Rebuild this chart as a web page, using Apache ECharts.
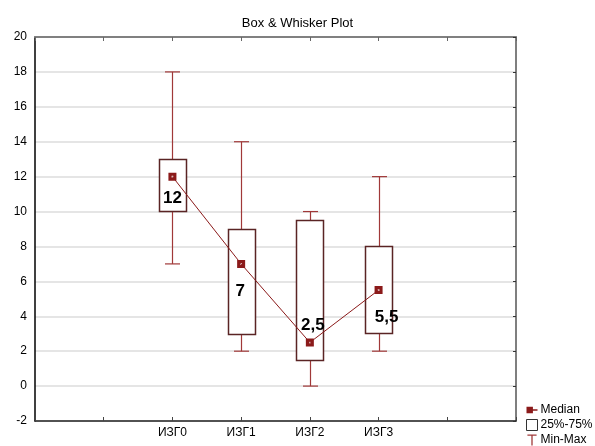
<!DOCTYPE html>
<html>
<head>
<meta charset="utf-8">
<script src="https://cdn.jsdelivr.net/npm/echarts@6/dist/echarts.min.js"></script>
<style>
  html, body { margin: 0; padding: 0; background: #fff; }
  #chart { width: 595px; height: 446px; }
</style>
</head>
<body>
<div id="chart"></div>
<script>
var categories = ['ИЗГ0', 'ИЗГ1', 'ИЗГ2', 'ИЗГ3'];
var mins    = [7, 2, 0, 2];
var q1s     = [10, 3, 1.5, 3];
var medians = [12, 7, 2.5, 5.5];
var q3s     = [13, 9, 9.5, 8];
var maxs    = [18, 14, 10, 12];
var medianLabels = ['12', '7', '2,5', '5,5'];
var yTicks = { min: -2, max: 20, step: 2 };

// categories sit on ticks 2..5 of a 0..7 axis
var FIRST = 2;
var labelOffsets = [[0, 22], [-1, 27], [3, -17], [8, 27]];

var boxData = categories.map(function (c, i) {
    return [i + FIRST, mins[i], q1s[i], medians[i], q3s[i], maxs[i]];
});
var medianData = categories.map(function (c, i) {
    return {
        value: [i + FIRST, medians[i]],
        label: { formatter: medianLabels[i], offset: labelOffsets[i] }
    };
});

var boxColor = '#5a2424';
var whiskerColor = '#a03838';
var medianColor = '#8b1a1a';
var font = '"Liberation Sans", Arial, sans-serif';

function renderBox(params, api) {
    var x = api.value(0);
    var a = api.coord([x, api.value(2)]);
    var b = api.coord([x, api.value(4)]);
    var w = 27;
    return {
        type: 'rect',
        shape: { x: Math.round(a[0] - w / 2) + 0.5, y: Math.round(b[1]) + 0.5, width: w, height: Math.round(a[1] - b[1]) },
        style: { fill: '#fff', stroke: boxColor, lineWidth: 1.5 }
    };
}

function renderWhisker(params, api) {
    var x = api.value(0);
    var pMin = api.coord([x, api.value(1)]);
    var pQ1 = api.coord([x, api.value(2)]);
    var pQ3 = api.coord([x, api.value(4)]);
    var pMax = api.coord([x, api.value(5)]);
    var cx = Math.round(pMin[0]) + 0.5;
    var c = 7.5;
    var st = { stroke: whiskerColor, lineWidth: 1.2 };
    return {
        type: 'group',
        children: [
            { type: 'line', shape: { x1: cx, y1: pMax[1], x2: cx, y2: pQ3[1] }, style: st },
            { type: 'line', shape: { x1: cx, y1: pQ1[1], x2: cx, y2: pMin[1] }, style: st },
            { type: 'line', shape: { x1: cx - c, y1: pMax[1], x2: cx + c, y2: pMax[1] }, style: st },
            { type: 'line', shape: { x1: cx - c, y1: pMin[1], x2: cx + c, y2: pMin[1] }, style: st }
        ]
    };
}

var myChart = echarts.init(document.getElementById('chart'));
var option = {
    backgroundColor: '#fff',
    animation: false,
    textStyle: { fontFamily: font },
    title: {
        text: 'Box & Whisker Plot',
        left: 'center',
        top: 12,
        textStyle: { fontSize: 13, fontWeight: 'normal', color: '#000', fontFamily: font }
    },
    legend: {
        orient: 'vertical',
        left: 526,
        top: 404,
        padding: 0,
        itemWidth: 11,
        itemHeight: 11,
        itemGap: 3,
        textStyle: { fontSize: 12, color: '#000', fontFamily: font, padding: [0, 0, 0, -2] },
        data: [
            { name: 'Median', icon: 'path://M0,3H7V10H0Z M7,5.8H12V7.2H7Z', itemStyle: { color: medianColor, borderWidth: 0 } },
            { name: '25%-75%', icon: 'rect', itemStyle: { color: '#fff', borderColor: '#333', borderWidth: 1 } },
            { name: 'Min-Max', icon: 'path://M0,0H10V1.4H5.7V12H4.3V1.4H0Z', itemStyle: { color: whiskerColor, borderWidth: 0 } }
        ]
    },
    grid: { left: 35, right: 79, top: 37, bottom: 25 },
    xAxis: [{
        type: 'value',
        min: 0, max: 7, interval: 1,
        position: 'bottom',
        axisLine: { onZero: false, lineStyle: { color: '#222', width: 1.5 } },
        axisTick: { inside: true, length: 4, lineStyle: { color: '#444' } },
        splitLine: { show: false },
        axisLabel: {
            fontSize: 12, color: '#000', margin: 6, fontFamily: font,
            formatter: function (v) { return categories[v - FIRST] || ''; }
        }
    }, {
        type: 'value',
        min: 0, max: 7, interval: 1,
        position: 'top',
        axisLine: { onZero: false, lineStyle: { color: '#808080', width: 2 } },
        axisTick: { inside: true, length: 4, lineStyle: { color: '#666' } },
        splitLine: { show: false },
        axisLabel: { show: false }
    }],
    yAxis: [{
        type: 'value',
        min: yTicks.min, max: yTicks.max, interval: yTicks.step,
        position: 'left',
        axisLine: { show: true, onZero: false, lineStyle: { color: '#000', width: 1.5 } },
        axisTick: { show: false },
        splitLine: { lineStyle: { color: '#dcdcdc', width: 1.5 } },
        axisLabel: { fontSize: 12, color: '#000', margin: 8, fontFamily: font }
    }, {
        type: 'value',
        min: yTicks.min, max: yTicks.max, interval: yTicks.step,
        position: 'right',
        axisLine: { show: true, onZero: false, lineStyle: { color: '#555', width: 1.5 } },
        axisTick: { inside: true, length: 3, lineStyle: { color: '#333' } },
        splitLine: { show: false },
        axisLabel: { show: false }
    }],
    series: [{
        name: 'Min-Max',
        type: 'custom',
        renderItem: renderWhisker,
        encode: { x: 0, y: [1, 2, 3, 4, 5] },
        itemStyle: { color: whiskerColor },
        data: boxData,
        z: 2
    }, {
        name: '25%-75%',
        type: 'custom',
        renderItem: renderBox,
        encode: { x: 0, y: [1, 2, 3, 4, 5] },
        itemStyle: { color: '#fff', borderColor: '#333' },
        data: boxData,
        z: 3
    }, {
        name: 'Median',
        type: 'line',
        data: medianData,
        symbol: 'path://M0,0H8V8H0Z M3.2,3.2V4.8H4.8V3.2Z',
        symbolSize: 8,
        lineStyle: { color: medianColor, width: 1 },
        itemStyle: { color: medianColor, borderWidth: 0 },
        label: {
            show: true,
            position: 'inside',
            fontSize: 17,
            fontWeight: 'bold',
            color: '#000',
            fontFamily: font
        },
        z: 4
    }]
};
myChart.setOption(option);
</script>
</body>
</html>
